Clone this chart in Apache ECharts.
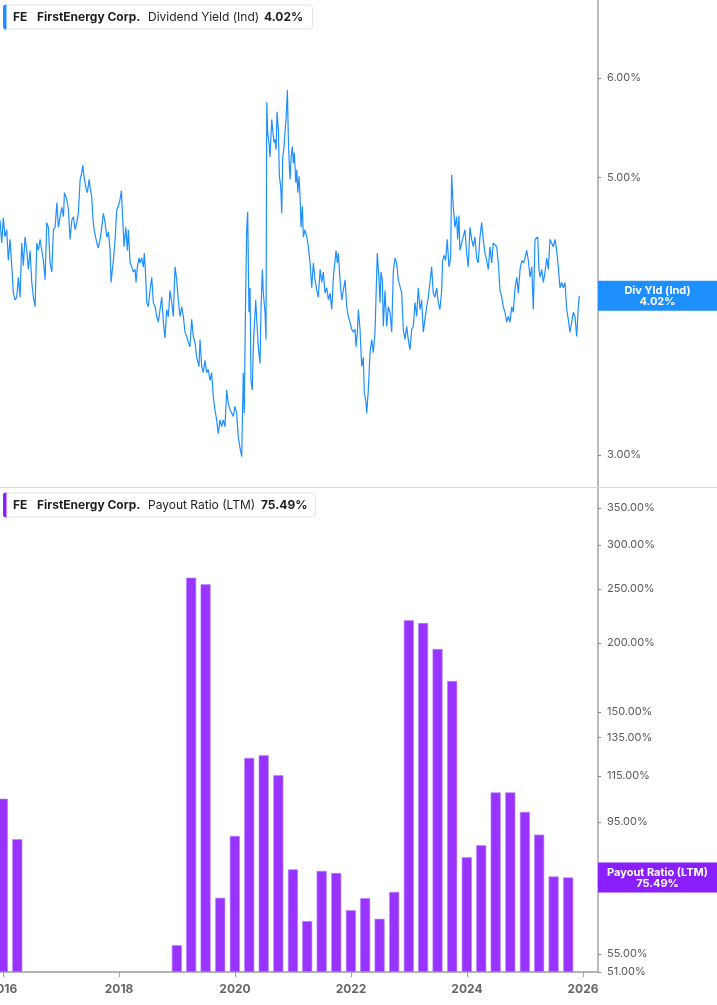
<!DOCTYPE html>
<html><head><meta charset="utf-8">
<script src="https://cdn.jsdelivr.net/npm/echarts@6/dist/echarts.min.js"></script>
<style>html,body{margin:0;padding:0;background:#fff}#c{width:717px;height:1005px}</style>
</head><body><div id="c"></div>
<script>
// ---------- data ----------
const yieldTicks = [3, 4, 5, 6];
const payoutTicks = [51, 55, 75, 95, 115, 135, 150, 200, 250, 300, 350];
const yearTicks = ['2016', '2018', '2020', '2022', '2024', '2026'];

// Dividend yield (Ind), %, [time in fractional years, value]
const divYield = [
[2015.948,4.62],[2015.978,4.43],[2016.005,4.64],[2016.034,4.48],[2016.064,4.54],[2016.091,4.29],[2016.121,4.46],[2016.150,4.25],
[2016.178,4.04],[2016.207,3.99],[2016.236,4.01],[2016.264,4.16],[2016.293,4.01],[2016.322,4.43],[2016.350,4.25],[2016.379,4.48],
[2016.409,4.37],[2016.436,4.22],[2016.466,4.37],[2016.495,4.12],[2016.522,4.01],[2016.552,3.94],[2016.581,4.43],[2016.609,4.37],
[2016.638,4.46],[2016.667,4.37],[2016.695,4.29],[2016.724,4.14],[2016.753,4.60],[2016.781,4.56],[2016.810,4.27],[2016.840,4.20],
[2016.867,4.54],[2016.897,4.56],[2016.926,4.77],[2016.953,4.56],[2016.983,4.65],[2017.012,4.73],[2017.040,4.65],[2017.057,4.86],
[2017.098,4.80],[2017.126,4.71],[2017.155,4.46],[2017.184,4.62],[2017.212,4.65],[2017.241,4.54],[2017.271,4.60],[2017.298,4.68],
[2017.328,4.98],[2017.357,5.04],[2017.374,5.11],[2017.397,5.00],[2017.426,4.91],[2017.453,4.86],[2017.483,4.98],[2017.500,4.91],
[2017.529,4.82],[2017.547,4.65],[2017.569,4.54],[2017.598,4.54],[2017.616,4.43],[2017.643,4.39],[2017.672,4.46],[2017.702,4.56],
[2017.729,4.68],[2017.759,4.60],[2017.788,4.48],[2017.816,4.52],[2017.845,4.37],[2017.862,4.12],[2017.884,4.22],[2017.902,4.29],
[2017.931,4.46],[2017.960,4.71],[2017.988,4.74],[2018.017,4.80],[2018.040,4.88],[2018.064,4.62],[2018.086,4.40],[2018.116,4.56],
[2018.143,4.37],[2018.160,4.54],[2018.190,4.27],[2018.219,4.24],[2018.247,4.20],[2018.276,4.22],[2018.293,4.12],[2018.316,4.24],
[2018.345,4.31],[2018.362,4.27],[2018.391,4.31],[2018.419,4.24],[2018.436,4.35],[2018.460,4.16],[2018.478,3.97],[2018.505,3.94],
[2018.534,4.06],[2018.564,4.16],[2018.591,3.97],[2018.621,3.94],[2018.650,3.87],[2018.678,3.83],[2018.707,3.92],[2018.736,4.01],
[2018.764,3.83],[2018.793,3.72],[2018.822,3.92],[2018.850,3.87],[2018.879,4.06],[2018.909,3.97],[2018.936,3.87],[2018.966,4.24],
[2018.995,4.14],[2019.022,3.99],[2019.052,3.87],[2019.081,3.94],[2019.109,3.87],[2019.138,3.76],[2019.167,3.73],[2019.195,3.69],
[2019.224,3.66],[2019.253,3.85],[2019.281,3.73],[2019.310,3.69],[2019.340,3.59],[2019.379,3.53],[2019.397,3.71],[2019.426,3.53],
[2019.453,3.49],[2019.483,3.57],[2019.512,3.49],[2019.540,3.51],[2019.569,3.44],[2019.598,3.49],[2019.626,3.34],[2019.655,3.26],
[2019.684,3.20],[2019.712,3.12],[2019.741,3.20],[2019.771,3.16],[2019.798,3.20],[2019.828,3.16],[2019.857,3.38],[2019.884,3.30],
[2019.914,3.26],[2019.943,3.24],[2019.971,3.22],[2020.000,3.28],[2020.029,3.24],[2020.057,3.10],[2020.086,3.04],[2020.116,2.99],
[2020.143,3.49],[2020.160,3.24],[2020.184,4.04],[2020.202,4.54],[2020.219,4.69],[2020.241,3.90],[2020.259,4.08],[2020.276,3.44],
[2020.298,3.38],[2020.316,3.66],[2020.333,3.80],[2020.357,3.99],[2020.374,3.85],[2020.402,3.66],[2020.431,3.55],[2020.448,3.92],
[2020.471,4.22],[2020.488,4.04],[2020.517,3.90],[2020.534,3.71],[2020.547,5.74],[2020.564,5.42],[2020.586,5.33],[2020.603,5.19],
[2020.633,5.56],[2020.650,5.45],[2020.672,5.33],[2020.690,5.36],[2020.707,5.26],[2020.724,5.64],[2020.747,5.45],[2020.764,5.01],
[2020.788,4.91],[2020.805,4.68],[2020.822,5.19],[2020.845,5.29],[2020.862,5.45],[2020.879,5.56],[2020.902,5.87],[2020.919,5.36],
[2020.936,5.10],[2020.948,4.98],[2020.966,5.19],[2020.988,5.29],[2021.005,5.13],[2021.022,5.23],[2021.047,4.95],[2021.064,5.07],
[2021.081,4.86],[2021.103,5.01],[2021.121,4.82],[2021.138,4.56],[2021.160,4.74],[2021.178,4.48],[2021.207,4.54],[2021.236,4.48],
[2021.264,4.40],[2021.293,4.27],[2021.322,4.08],[2021.350,4.27],[2021.379,4.14],[2021.409,4.06],[2021.436,4.01],[2021.466,4.22],
[2021.495,4.12],[2021.522,4.20],[2021.552,4.04],[2021.581,4.08],[2021.609,3.99],[2021.638,4.04],[2021.667,3.92],[2021.695,4.16],
[2021.724,4.29],[2021.741,4.37],[2021.764,4.27],[2021.781,4.35],[2021.810,4.14],[2021.840,3.99],[2021.867,4.06],[2021.897,4.14],
[2021.926,3.94],[2021.953,3.87],[2021.983,3.83],[2022.012,3.78],[2022.040,3.76],[2022.069,3.78],[2022.086,3.66],[2022.109,3.76],
[2022.126,3.92],[2022.155,3.78],[2022.184,3.53],[2022.212,3.59],[2022.229,3.36],[2022.253,3.32],[2022.271,3.24],[2022.298,3.38],
[2022.328,3.62],[2022.357,3.71],[2022.384,3.62],[2022.414,3.76],[2022.453,4.35],[2022.483,4.14],[2022.500,3.97],[2022.517,4.20],
[2022.540,4.14],[2022.557,3.80],[2022.586,4.06],[2022.616,3.80],[2022.643,3.94],[2022.672,3.90],[2022.702,3.76],[2022.729,4.20],
[2022.759,4.31],[2022.788,4.27],[2022.816,4.14],[2022.845,4.14],[2022.874,4.04],[2022.902,3.78],[2022.931,3.71],[2022.960,3.80],
[2022.988,3.71],[2023.017,3.64],[2023.047,3.78],[2023.074,3.80],[2023.103,3.97],[2023.133,3.87],[2023.160,4.08],[2023.190,3.92],
[2023.219,3.99],[2023.247,3.76],[2023.276,3.85],[2023.305,3.94],[2023.333,4.01],[2023.362,4.12],[2023.391,4.24],[2023.419,4.04],
[2023.448,4.01],[2023.478,4.08],[2023.505,3.97],[2023.534,3.92],[2023.564,4.06],[2023.581,4.29],[2023.609,4.33],[2023.633,4.29],
[2023.660,4.46],[2023.690,4.24],[2023.719,4.31],[2023.736,5.02],[2023.764,4.74],[2023.793,4.56],[2023.822,4.65],[2023.840,4.46],
[2023.862,4.66],[2023.879,4.37],[2023.909,4.43],[2023.936,4.43],[2023.966,4.54],[2023.995,4.35],[2024.022,4.24],[2024.052,4.56],
[2024.081,4.46],[2024.109,4.40],[2024.138,4.48],[2024.167,4.31],[2024.195,4.27],[2024.224,4.48],[2024.253,4.60],[2024.281,4.46],
[2024.310,4.35],[2024.340,4.29],[2024.367,4.22],[2024.397,4.40],[2024.426,4.27],[2024.453,4.43],[2024.483,4.44],[2024.512,4.40],
[2024.540,4.27],[2024.569,4.06],[2024.598,4.01],[2024.626,3.94],[2024.655,3.90],[2024.684,3.83],[2024.712,3.87],[2024.741,3.83],
[2024.771,3.94],[2024.798,3.90],[2024.828,4.08],[2024.857,4.16],[2024.884,4.04],[2024.914,4.22],[2024.943,4.29],[2024.971,4.27],
[2025.000,4.31],[2025.029,4.37],[2025.057,4.29],[2025.086,4.16],[2025.116,4.24],[2025.143,3.92],[2025.172,4.46],[2025.202,4.46],
[2025.219,4.48],[2025.241,4.22],[2025.259,4.16],[2025.288,4.22],[2025.316,4.12],[2025.345,4.20],[2025.374,4.31],[2025.402,4.22],
[2025.431,4.46],[2025.460,4.47],[2025.488,4.40],[2025.517,4.46],[2025.546,4.37],[2025.574,4.24],[2025.603,4.08],[2025.633,4.12],
[2025.660,4.08],[2025.690,4.12],[2025.719,3.92],[2025.747,3.85],[2025.776,3.76],[2025.805,3.83],[2025.833,3.90],[2025.862,3.87],
[2025.891,3.73],[2025.919,3.94],[2025.936,4.02]
];

// Payout ratio (LTM), %, quarter ends (null = not shown / negative)
const payoutDates = [
'2015-12-31','2016-03-31','2016-06-30','2016-09-30','2016-12-31','2017-03-31','2017-06-30','2017-09-30','2017-12-31',
'2018-03-31','2018-06-30','2018-09-30','2018-12-31','2019-03-31','2019-06-30','2019-09-30','2019-12-31',
'2020-03-31','2020-06-30','2020-09-30','2020-12-31','2021-03-31','2021-06-30','2021-09-30','2021-12-31',
'2022-03-31','2022-06-30','2022-09-30','2022-12-31','2023-03-31','2023-06-30','2023-09-30','2023-12-31',
'2024-03-31','2024-06-30','2024-09-30','2024-12-31','2025-03-31','2025-06-30','2025-09-30'
];
const payoutValues = [
104.7, 88.5, null, null, null, null, null, null, null,
null, null, null, 57.0, 262.1, 255.0, 69.4, 89.7,
124.0, 125.4, 115.4, 78.1, 63.0, 77.6, 76.9, 65.9,
69.3, 63.6, 71.1, 219.6, 217.1, 194.9, 170.7, 82.1,
86.3, 107.5, 107.5, 99.1, 90.2, 75.8, 75.49
];

// ---------- helpers ----------
function fromYear(t) {
  const Y = Math.floor(t);
  const s = Date.UTC(Y, 0, 1), e = Date.UTC(Y + 1, 0, 1);
  return s + (t - Y) * (e - s);
}
const BLUE = '#1e8fff', PURPLE = '#9933ff', PURPLE_D = '#8b1eff';
const FONT = 'Inter, "Noto Sans", sans-serif';
const xMin = fromYear(2015.948), xMax = fromYear(2026.259);
const yearVals = yearTicks.map(y => Date.UTC(+y, 0, 1));
const lastYield = divYield[divYield.length - 1][1];
const lastPayout = payoutValues[payoutValues.length - 1];

const lineData = divYield.map(p => [fromYear(p[0]), p[1]]);
const barData = payoutDates.map((d, i) => [Date.parse(d), payoutValues[i]]);

function yAxisBase(grid, ticks, min, max) {
  return {
    type: 'log', logBase: 10, gridIndex: grid, position: 'right', min: min, max: max,
    axisLine: { show: true, lineStyle: { color: '#a6a6a6', width: 1.5 } },
    axisTick: { show: true, length: 3, customValues: ticks, lineStyle: { color: '#888' } },
    axisLabel: { customValues: ticks, formatter: v => Number(v).toFixed(2) + '%', color: '#5a5a5a', fontSize: 11, margin: 9, fontFamily: FONT },
    splitLine: { show: false }
  };
}

function legend(y, color, label, valueText, xLabel, xVal, w) {
  return [
    { type: 'rect', shape: { x: 3.5, y: y + 0.5, width: w, height: 24, r: 3 }, style: { fill: '#fff', stroke: '#e4e4e4', lineWidth: 1 }, z: 10 },
    { type: 'rect', shape: { x: 3, y: y, width: 3.5, height: 25, r: [3, 0, 0, 3] }, style: { fill: color }, z: 11 },
    { type: 'text', x: 13, y: y + 12.5, style: { text: 'FE', font: 'bold 12px ' + FONT, fill: '#1f1f1f', verticalAlign: 'middle' }, z: 11 },
    { type: 'text', x: 37, y: y + 12.5, style: { text: 'FirstEnergy Corp.', font: 'bold 12px ' + FONT, fill: '#1f1f1f', verticalAlign: 'middle' }, z: 11 },
    { type: 'text', x: xLabel, y: y + 12.5, style: { text: label, font: '12px ' + FONT, fill: '#1f1f1f', verticalAlign: 'middle' }, z: 11 },
    { type: 'text', x: xVal, y: y + 12.5, style: { text: valueText, font: 'bold 12px ' + FONT, fill: '#1f1f1f', verticalAlign: 'middle' }, z: 11 }
  ];
}

function badge(color, title, valueText, value) {
  return {
    symbol: 'none', silent: true, animation: false,
    lineStyle: { color: 'rgba(255,255,255,0)', width: 0, opacity: 1, type: 'solid' },
    label: {
      show: true, position: 'end', distance: 0, opacity: 1,
      formatter: '{t|' + title + '}\n{t|' + valueText + '}',
      backgroundColor: color, padding: [4, 4, 3, 4],
      rich: { t: { width: 111, align: 'center', color: '#fff', fontWeight: 'bold', fontSize: 11, lineHeight: 11.5, fontFamily: FONT } }
    },
    data: [{ yAxis: value }]
  };
}

const chart = echarts.init(document.getElementById('c'), null, { renderer: 'canvas' });
chart.setOption({
  animation: false,
  backgroundColor: '#fff',
  grid: [
    { left: 0, right: 119, top: 0, height: 487, containLabel: false, outerBoundsMode: 'none' },
    { left: 0, right: 119, top: 488, bottom: 33, containLabel: false, outerBoundsMode: 'none' }
  ],
  xAxis: [
    { type: 'value', gridIndex: 0, min: xMin, max: xMax, show: false, splitLine: { show: false } },
    {
      type: 'value', gridIndex: 1, min: xMin, max: xMax,
      axisLine: { show: true, lineStyle: { color: '#b4b4b4', width: 2 } },
      axisTick: { show: true, length: 5, customValues: yearVals, lineStyle: { color: '#a0a0a0', width: 1 } },
      axisLabel: { customValues: yearVals, formatter: v => String(new Date(v).getUTCFullYear()), color: '#666', fontSize: 12, fontWeight: 'bold', margin: 11, fontFamily: FONT },
      splitLine: { show: false }
    }
  ],
  yAxis: [
    yAxisBase(0, yieldTicks, 2.828, 6.928),
    Object.assign(yAxisBase(1, payoutTicks, 51, 380.3), { startValue: 51 })
  ],
  series: [
    {
      type: 'line', xAxisIndex: 0, yAxisIndex: 0, data: lineData, showSymbol: false, z: 2,
      lineStyle: { color: BLUE, width: 1.2 }, itemStyle: { color: BLUE },
      markLine: badge(BLUE, 'Div Yld (Ind)', lastYield.toFixed(2) + '%', lastYield)
    },
    {
      type: 'bar', xAxisIndex: 1, yAxisIndex: 1, data: barData, barWidth: 10, clip: true, z: 2,
      itemStyle: { color: PURPLE, borderColor: '#b982ff', borderWidth: 0.6 },
      markLine: badge(PURPLE_D, 'Payout Ratio (LTM)', lastPayout.toFixed(2) + '%', lastPayout)
    }
  ],
  graphic: [
    { type: 'line', shape: { x1: 0, y1: 487.5, x2: 717, y2: 487.5 }, style: { stroke: '#d6d6d6', lineWidth: 1 }, z: 5 }
  ].concat(
    legend(4.5, BLUE, 'Dividend Yield (Ind)', lastYield.toFixed(2) + '%', 148, 264, 309),
    legend(492.5, PURPLE_D, 'Payout Ratio (LTM)', lastPayout.toFixed(2) + '%', 148, 261, 312)
  )
});
</script>
</body></html>
